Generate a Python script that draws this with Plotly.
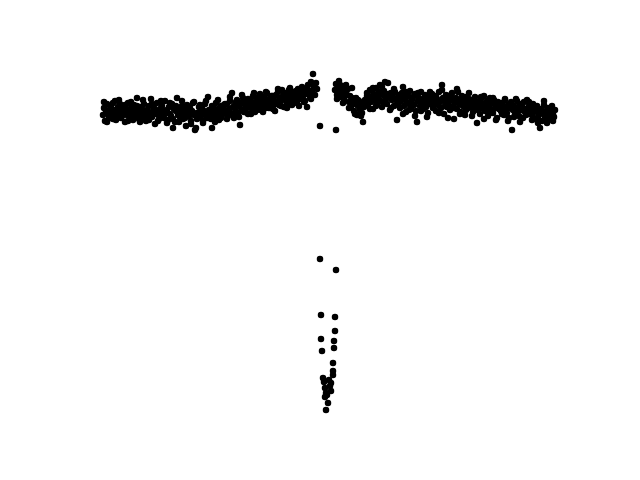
import plotly.graph_objects as go

# Light-curve samples (time and flux in pixel-like units, flux axis inverted)
time_left = [103,104,105,106,107,108,109,110,111,112,113,114,115,116,117,118,119,120,121,122,123,124,125,126,127,128,129,130,131,132,133,134,135,136,137,138,139,140,
             141,142,143,144,145,146,147,148,149,150,151,152,153,154,155,156,157,158,159,160,161,162,163,164,165,166,167,168,169,170,171,172,173,174,175,176,177,178,179,180,
             181,182,183,184,185,186,187,188,189,190,191,192,193,194,195,196,197,198,199,200,
             201,202,203,204,205,206,207,208,209,210,211,212,213,214,215,216,217,218,219,220,221,222,223,224,225,
             226,227,228,229,230,231,232,233,234,235,236,237,238,239,240,241,242,243,244,245,246,247,248,249,250,
             251,252,253,254,255,256,257,258,259,260,261,262,263,264,265,266,267,268,269,270,271,272,273,274,275,
             276,277,278,279,280,281,282,283,284,285,286,287,288,289,290,291,292,293,294,295,296,297,298,299,300,
             301,302,303,304,305,306,307,308,309,310,311,312,313,314,315,316,317]
flux_left = [115,108,121,111,104,113,117,109,106,114,119,110,101,112,116,107,113,104,118,110,112,106,122,109,115,103,111,117,108,113,120,105,110,116,98,112,119,107,
             114,109,118,104,112,121,110,115,106,113,99,117,111,108,124,114,103,112,119,109,115,106,111,118,101,113,110,120,107,114,116,104,128,109,122,111,98,115,108,117,
             113,106,119,110,114,126,105,112,116,108,121,111,103,115,130,128,113,118,107,112,
             116,108,121,111,104,115,118,97,110,113,119,128,107,112,116,103,114,109,120,111,106,115,108,112,104,
             112,104,116,109,101,113,93,107,118,105,111,100,114,106,125,103,110,98,112,105,101,108,114,102,106,
             101,109,96,105,112,102,98,107,103,94,110,100,105,97,103,108,93,101,106,98,103,96,109,100,104,
             95,102,92,105,98,101,90,96,107,99,93,103,97,90,101,95,105,98,92,100,96,103,89,98,94,
             99,91,96,102,89,94,107,85,93,97,82,91,74,87,95,83,89]

time_left_b = [104,107,110,113,116,119,122,125,128,131,134,137,140,143,146,149,152,155,158,161,164,167,170,173,176,179,182,185,188,191,194,197,200,
               203,206,209,212,215,218,221,224,227,230,233,236,239,242,245,248,251,254,257,260,263,266,269,272,275,278,281,284,287,290,293,296,299,302,305,308,311,314]
flux_left_b = [102,122,118,103,120,100,116,105,121,102,117,106,122,100,116,120,104,110,121,101,114,123,103,119,106,122,101,118,107,124,102,119,105,
               123,101,117,106,122,100,118,105,119,97,114,102,117,95,112,99,114,93,110,97,112,92,108,96,111,89,106,94,108,88,103,91,106,87,101,90,99,86]

time_right = [335,336,337,338,339,340,341,342,343,344,345,346,347,348,349,350,
              351,352,353,354,355,356,357,358,359,360,361,362,363,364,365,
              366,367,368,369,370,371,372,373,374,375,376,377,378,379,380,381,382,383,384,385,386,387,388,389,390,391,392,393,394,395,
              396,397,398,399,400,401,402,403,404,405,406,407,408,409,410,411,412,413,414,415,416,417,418,419,420,421,422,423,424,425,426,427,428,429,430,
              431,432,433,434,435,436,437,438,439,440,441,442,443,444,445,446,447,448,449,450,451,452,453,454,455,456,457,458,459,460,461,462,463,464,465,466,467,468,469,470,
              471,472,473,474,475,476,477,478,479,480,481,482,483,484,485,486,487,488,489,490,491,492,493,494,495,496,497,498,499,500,
              501,502,503,504,505,506,507,508,509,510,511,512,513,514,515,516,517,518,519,520,521,522,523,524,525,526,527,528,529,530,
              531,532,533,534,535,536,537,538,539,540,541,542,543,544,545,546,547,548,549,550,551,552,553,554,555]
flux_right = [90,84,95,88,81,92,97,86,90,99,93,85,95,89,102,96,
              107,88,102,111,104,98,115,106,101,110,103,113,122,107,100,
              101,93,105,98,90,102,96,109,94,100,88,104,97,92,85,101,107,95,91,82,99,104,83,96,110,93,100,97,106,92,
              99,120,104,95,108,101,93,87,106,98,112,102,96,104,91,109,100,97,105,94,111,122,101,98,106,92,103,109,99,95,107,101,113,97,104,
              100,94,108,103,97,111,99,105,92,102,108,85,98,114,101,95,107,103,97,110,100,93,106,119,102,98,109,92,104,100,112,96,106,101,115,97,104,108,99,103,
              107,100,112,104,97,109,123,102,106,114,99,108,104,96,111,105,101,116,107,98,110,103,113,100,108,105,118,102,109,104,
              111,103,107,115,100,109,113,105,118,108,102,130,110,106,114,99,112,108,116,104,110,107,118,102,112,109,100,114,106,111,
              108,115,104,112,119,110,106,117,113,128,109,121,114,105,118,111,123,108,116,112,119,106,114,117,110]

time_right_b = [337,340,343,346,349,352,355,358,361,364,367,370,373,376,379,382,385,388,391,394,397,400,403,406,409,412,415,418,421,424,427,430,
                433,436,439,442,445,448,451,454,457,460,463,466,469,472,475,478,481,484,487,490,493,496,499,502,505,508,511,514,517,520,523,526,529,532,535,538,541,544,547,550,553]
flux_right_b = [99,85,103,92,108,98,114,100,116,103,96,109,88,106,100,87,103,94,108,89,104,96,114,92,110,98,116,93,111,102,117,92,
                107,96,113,90,106,118,95,108,89,114,99,110,93,116,102,110,97,119,104,113,98,120,106,114,99,121,104,117,101,122,108,115,102,120,107,123,112,101,117,109,121]

time_dip = [320,336,320,336,321,335,335,321,334,322,334,333,333,333,323,324,331,325,331,327,325,328,326,330,326,329]
flux_dip = [126,130,259,270,315,317,331,339,341,351,348,363,371,375,378,382,383,388,391,395,397,403,410,386,393,380]

time = time_left + time_left_b + time_right + time_right_b + time_dip
flux = flux_left + flux_left_b + flux_right + flux_right_b + flux_dip

fig = go.Figure(go.Scatter(
    x=time, y=flux, mode="markers",
    marker=dict(size=6.5, color="black", line=dict(width=0)),
    hoverinfo="skip",
))
fig.update_layout(
    width=640, height=480,
    margin=dict(l=0, r=0, t=0, b=0),
    paper_bgcolor="white", plot_bgcolor="white",
    showlegend=False,
    xaxis=dict(range=[0, 640], visible=False),
    yaxis=dict(range=[480, 0], visible=False),
)
fig.write_html("out.html")
